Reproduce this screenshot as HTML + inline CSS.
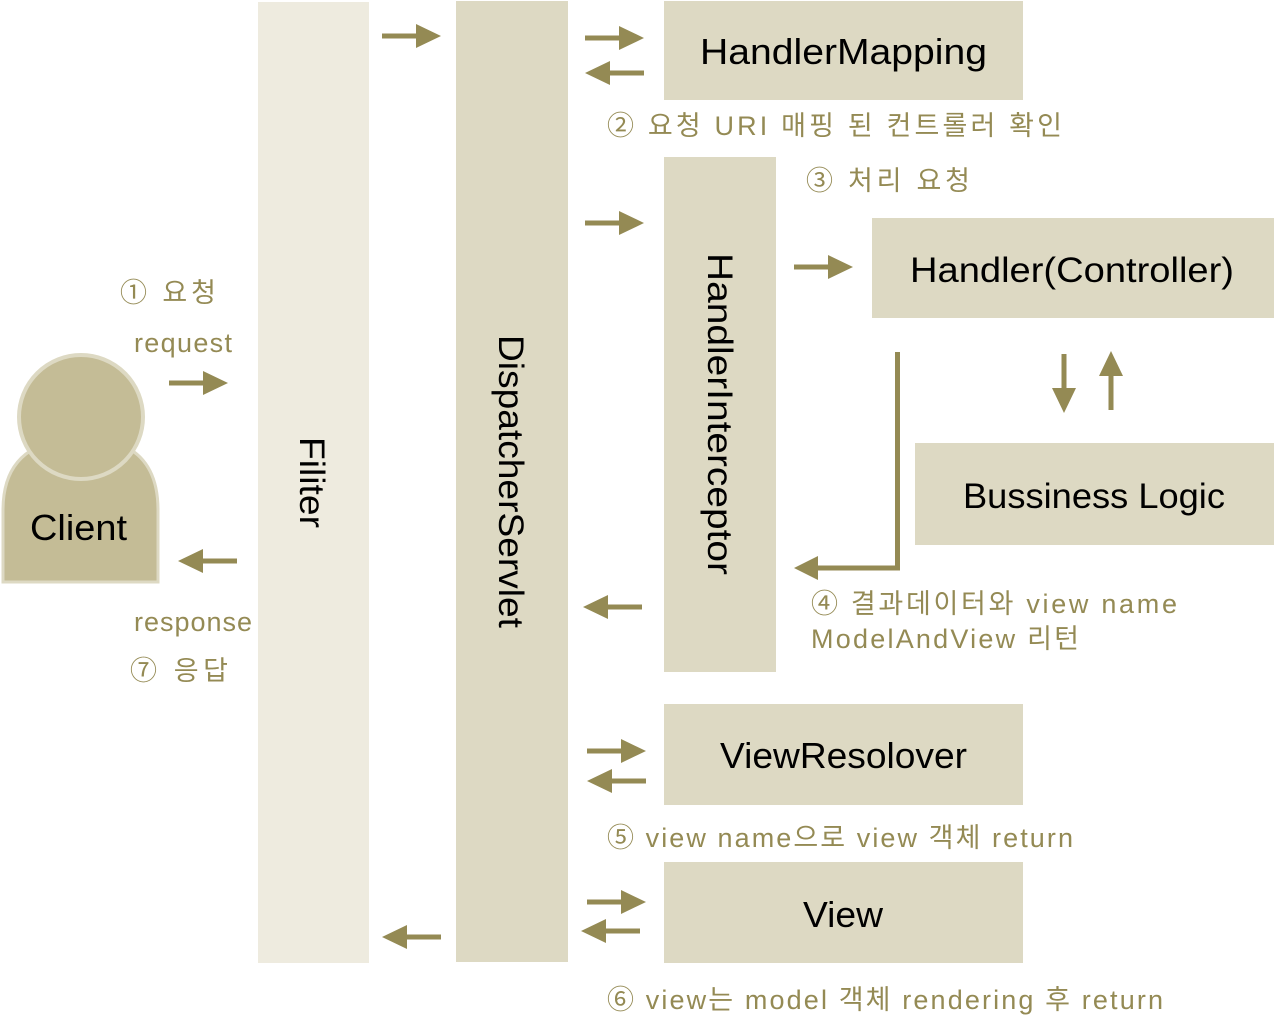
<!DOCTYPE html>
<html><head><meta charset="utf-8"><style>
html,body{margin:0;padding:0;background:#fff;width:1274px;height:1033px;overflow:hidden}
svg{display:block}
.b{font-family:"Liberation Sans","Noto Sans CJK KR",sans-serif;fill:#000}
.l{font-family:"Liberation Sans","Noto Sans CJK KR",sans-serif;fill:#948a54;font-size:27px}
</style></head><body>
<svg width="1274" height="1033" viewBox="0 0 1274 1033">
<rect x="258" y="2" width="111" height="961" fill="#eeebdf"/>
<rect x="456" y="1" width="112" height="961" fill="#ddd9c3"/>
<rect x="664" y="1" width="359" height="99" fill="#ddd9c3"/>
<rect x="664" y="157" width="112" height="515" fill="#ddd9c3"/>
<rect x="872" y="218" width="402" height="100" fill="#ddd9c3"/>
<rect x="915" y="443" width="359" height="102" fill="#ddd9c3"/>
<rect x="664" y="704" width="359" height="101" fill="#ddd9c3"/>
<rect x="664" y="862" width="359" height="101" fill="#ddd9c3"/>
<path d="M3 582 L3 510 Q3 450 60 440 L105 440 Q158 450 158 510 L158 582 Z" fill="#c4bc96" stroke="#ddd9c3" stroke-width="3"/>
<circle cx="81" cy="417" r="62" fill="#c4bc96" stroke="#ddd9c3" stroke-width="4"/>
<text class="b" x="30" y="540" font-size="36" textLength="97" lengthAdjust="spacingAndGlyphs">Client</text>
<text class="b" x="700" y="64" font-size="36" textLength="287" lengthAdjust="spacingAndGlyphs">HandlerMapping</text>
<text class="b" x="910" y="282" font-size="35" textLength="324" lengthAdjust="spacingAndGlyphs">Handler(Controller)</text>
<text class="b" x="963" y="508" font-size="35" textLength="262" lengthAdjust="spacingAndGlyphs">Bussiness Logic</text>
<text class="b" x="720" y="768" font-size="36" textLength="247" lengthAdjust="spacingAndGlyphs">ViewResolover</text>
<text class="b" x="803" y="927" font-size="36" textLength="80" lengthAdjust="spacingAndGlyphs">View</text>
<text class="b" font-size="35" transform="translate(300,437) rotate(90)" textLength="91" lengthAdjust="spacingAndGlyphs">Filiter</text>
<text class="b" font-size="35" transform="translate(499,335) rotate(90)" textLength="293" lengthAdjust="spacingAndGlyphs">DispatcherServlet</text>
<text class="b" font-size="35" transform="translate(708,253) rotate(90)" textLength="322" lengthAdjust="spacingAndGlyphs">HandlerInterceptor</text>
<text class="l" x="120" y="302" textLength="96">① 요청</text>
<text class="l" x="134" y="352" font-size="26" textLength="98">request</text>
<text class="l" x="134" y="631" font-size="26" textLength="118">response</text>
<text class="l" x="130" y="680" textLength="98">⑦ 응답</text>
<text class="l" x="607" y="135" textLength="455">② 요청 URI 매핑 된 컨트롤러 확인</text>
<text class="l" x="806" y="190" textLength="164">③ 처리 요청</text>
<text class="l" x="811" y="613" textLength="366">④ 결과데이터와 view name</text>
<text class="l" x="811" y="648" textLength="268">ModelAndView 리턴</text>
<text class="l" x="607" y="847" textLength="466">⑤ view name으로 view 객체 return</text>
<text class="l" x="607" y="1009" textLength="556">⑥ view는 model 객체 rendering 후 return</text>
<g fill="#948a54">
<path d="M0 -2.5 H34 V-12 L59 0 L34 12 V2.5 H0 Z" transform="translate(382,36)"/>
<path d="M0 -2.5 H34 V-12 L59 0 L34 12 V2.5 H0 Z" transform="translate(585,38)"/>
<path d="M0 -2.5 H34 V-12 L59 0 L34 12 V2.5 H0 Z" transform="translate(644,73) rotate(180)"/>
<path d="M0 -2.5 H34 V-12 L59 0 L34 12 V2.5 H0 Z" transform="translate(585,223)"/>
<path d="M0 -2.5 H34 V-12 L59 0 L34 12 V2.5 H0 Z" transform="translate(794,267)"/>
<path d="M0 -2.5 H34 V-12 L59 0 L34 12 V2.5 H0 Z" transform="translate(1064,354) rotate(90)"/>
<path d="M0 -2.5 H34 V-12 L59 0 L34 12 V2.5 H0 Z" transform="translate(1111,410) rotate(-90)"/>
<path d="M0 -2.5 H34 V-12 L59 0 L34 12 V2.5 H0 Z" transform="translate(169,383)"/>
<path d="M0 -2.5 H34 V-12 L59 0 L34 12 V2.5 H0 Z" transform="translate(237,561) rotate(180)"/>
<path d="M0 -2.5 H34 V-12 L59 0 L34 12 V2.5 H0 Z" transform="translate(642,607) rotate(180)"/>
<path d="M0 -2.5 H34 V-12 L59 0 L34 12 V2.5 H0 Z" transform="translate(587,751)"/>
<path d="M0 -2.5 H34 V-12 L59 0 L34 12 V2.5 H0 Z" transform="translate(646,781) rotate(180)"/>
<path d="M0 -2.5 H34 V-12 L59 0 L34 12 V2.5 H0 Z" transform="translate(587,902)"/>
<path d="M0 -2.5 H34 V-12 L59 0 L34 12 V2.5 H0 Z" transform="translate(640,931) rotate(180)"/>
<path d="M0 -2.5 H34 V-12 L59 0 L34 12 V2.5 H0 Z" transform="translate(441,937) rotate(180)"/>
<path d="M895 352 H900 V570.5 H818 V580 L794 568 L818 556 V565.5 H895 Z"/>
</g>
</svg>
</body></html>
